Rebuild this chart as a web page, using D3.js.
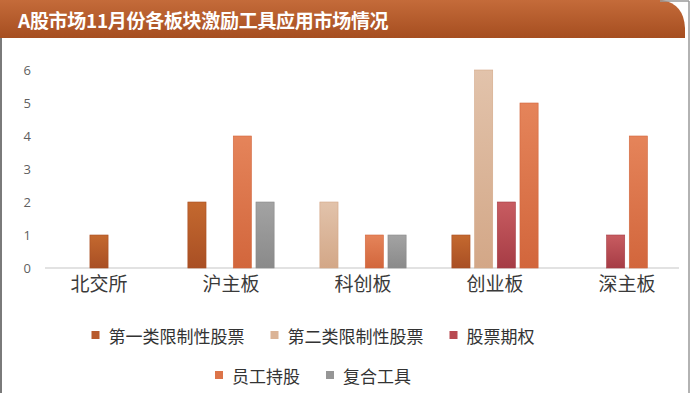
<!DOCTYPE html>
<html>
<head>
<meta charset="utf-8">
<script src="https://cdn.jsdelivr.net/npm/d3@7"></script>
<style>
  html, body { margin: 0; padding: 0; background: #ffffff; }
  svg { display: block; }
  text { font-family: "Noto Sans CJK SC", "Noto Sans", sans-serif; }
</style>
</head>
<body>
<svg id="chart" width="692" height="393"></svg>
<script>
// ---- data ----
const title = "A股市场11月份各板块激励工具应用市场情况";
const categories = ["北交所", "沪主板", "科创板", "创业板", "深主板"];
const seriesNames = ["第一类限制性股票", "第二类限制性股票", "股票期权", "员工持股", "复合工具"];
// null = series not listed in that board's group, 0 = listed but empty
const restrictedA = [1, 2, null, 1, null];
const restrictedB = [null, null, 2, 6, null];
const stockOptions = [null, 0, 0, 2, 1];
const employeeOwnership = [null, 4, 1, 5, 4];
const compositeTools = [null, 2, 1, null, null];
const yTicks = [0, 1, 2, 3, 4, 5, 6];

const seriesValues = [restrictedA, restrictedB, stockOptions, employeeOwnership, compositeTools];
const colors = [
  ["#c4692f", "#a94f24"],
  ["#e2c3ab", "#d3a787"],
  ["#c85c61", "#a63c45"],
  ["#e5845a", "#d2663c"],
  ["#a3a3a3", "#8a8a8a"]
];
const legendColors = ["#b85a2c", "#dbb497", "#b84a51", "#dc7449", "#969696"];

const svg = d3.select("#chart");
const defs = svg.append("defs");

// title bar
const tg = defs.append("linearGradient").attr("id", "titleGrad")
  .attr("x1", 0).attr("y1", 0).attr("x2", 0).attr("y2", 1);
tg.append("stop").attr("offset", "0%").attr("stop-color", "#c46b3a");
tg.append("stop").attr("offset", "100%").attr("stop-color", "#a64e20");

svg.append("path")
  .attr("d", "M0,0 L662,0 Q684,4 685,28 L685,38 L0,38 Z")
  .attr("fill", "url(#titleGrad)");
svg.append("text")
  .attr("x", 18).attr("y", 27.5)
  .attr("fill", "#ffffff")
  .attr("font-size", 19)
  .attr("font-weight", "bold")
  .attr("letter-spacing", -0.3)
  .text(title);

// frame lines
svg.append("line").attr("x1", 1).attr("x2", 1).attr("y1", 38).attr("y2", 393)
  .attr("stroke", "#7a7a7a").attr("stroke-width", 2);
svg.append("line").attr("x1", 689).attr("x2", 689).attr("y1", 1).attr("y2", 393)
  .attr("stroke", "#9a9a9a").attr("stroke-width", 1.5);
svg.append("line").attr("x1", 660).attr("x2", 689).attr("y1", 1).attr("y2", 1)
  .attr("stroke", "#9a9a9a").attr("stroke-width", 1.5);

// gradients for bars
colors.forEach((c, i) => {
  const g = defs.append("linearGradient").attr("id", "bar" + i)
    .attr("x1", 0).attr("y1", 0).attr("x2", 0).attr("y2", 1);
  g.append("stop").attr("offset", "0%").attr("stop-color", c[0]);
  g.append("stop").attr("offset", "100%").attr("stop-color", c[1]);
});

// scales
const x = d3.scaleBand().domain(categories).range([33, 693]).padding(0);
const y = d3.scaleLinear().domain([0, 6]).range([268, 70]);
const slotStep = 22.7;

// y axis labels
const yAxis = svg.append("g")
  .attr("transform", "translate(31,0)")
  .call(d3.axisLeft(y).tickValues(yTicks).tickSize(0).tickPadding(0).tickFormat(d3.format("d")));
yAxis.select(".domain").remove();
yAxis.selectAll("text")
  .attr("font-size", 13)
  .attr("fill", "#5f5f5f")
  .style("font-family", "'Open Sans', 'Noto Sans', sans-serif");

// baseline
svg.append("line")
  .attr("x1", 45).attr("x2", 679)
  .attr("y1", y(0)).attr("y2", y(0))
  .attr("stroke", "#d9d9d9").attr("stroke-width", 1.5);

// bars
const barsG = svg.append("g");
categories.forEach((cat, ci) => {
  const present = seriesNames.map((s, si) => si).filter(si => seriesValues[si][ci] !== null);
  const c = x(cat) + x.bandwidth() / 2;
  const n = present.length;
  const inner = d3.scaleBand()
    .domain(present)
    .range([c - n * slotStep / 2, c + n * slotStep / 2])
    .paddingInner(0.2).paddingOuter(0.1);
  present.forEach(si => {
    const v = seriesValues[si][ci];
    if (!v) return;
    barsG.append("rect")
      .attr("x", inner(si))
      .attr("y", y(v))
      .attr("width", inner.bandwidth())
      .attr("height", y(0) - y(v))
      .attr("fill", "url(#bar" + si + ")")
      .attr("stroke", colors[si][1])
      .attr("stroke-width", 0.6);
  });
});

// category axis
const xAxis = svg.append("g")
  .attr("transform", `translate(0,${y(0)})`)
  .call(d3.axisBottom(x).tickSize(0).tickPadding(10));
xAxis.select(".domain").remove();
xAxis.selectAll("text")
  .attr("font-size", 19)
  .attr("fill", "#3a3a3a");

// legend
const legendRows = [[0, 1, 2], [3, 4]];
const rowY = [335, 375];
const legendCenter = 313;
legendRows.forEach((row, ri) => {
  const g = svg.append("g");
  let cursor = 0;
  row.forEach((si, k) => {
    const item = g.append("g").attr("transform", `translate(${cursor},0)`);
    item.append("rect")
      .attr("x", 0).attr("y", rowY[ri] - 4)
      .attr("width", 8).attr("height", 8)
      .attr("fill", legendColors[si]);
    const t = item.append("text")
      .attr("x", 17).attr("y", rowY[ri])
      .attr("dominant-baseline", "central")
      .attr("font-size", 17)
      .attr("fill", "#333333")
      .text(seriesNames[si]);
    cursor += 17 + t.node().getComputedTextLength() + 26;
  });
  const total = cursor - 26;
  g.attr("transform", `translate(${legendCenter - total / 2},0)`);
});
</script>
</body>
</html>
